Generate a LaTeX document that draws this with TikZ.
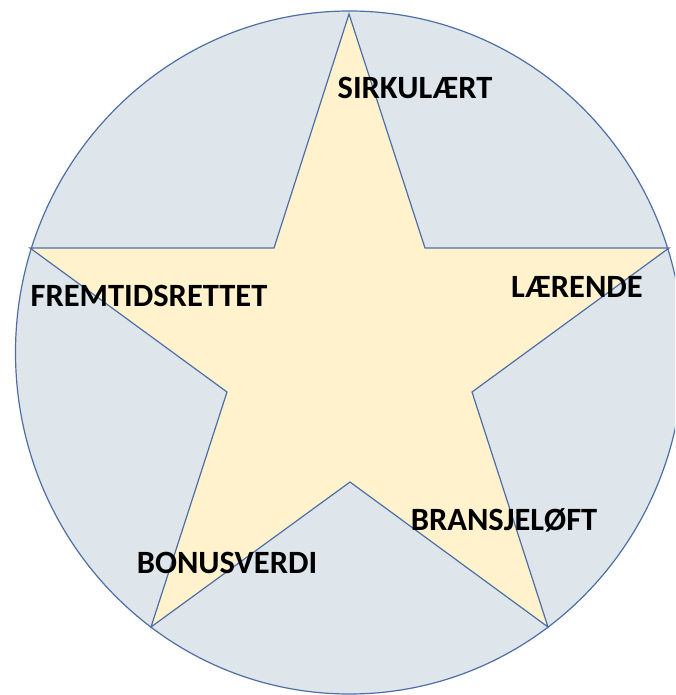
\documentclass[tikz,border=0pt]{standalone}
\usepackage{fontspec}
\setmainfont{Carlito}
\definecolor{ringfill}{HTML}{DEE5EB}
\definecolor{starfill}{HTML}{FFF2CC}
\definecolor{edge}{HTML}{4E6FA6}
\begin{document}
\begin{tikzpicture}[x=1pt,y=-1pt,
  lbl/.style={font=\bfseries\fontsize{32.5}{36}\selectfont, text=black, inner sep=0pt, anchor=center},
  outline/.style={draw=edge, line width=1.2pt, line join=miter}]
\useasboundingbox (0,0) rectangle (675,695);
\clip (0,0) rectangle (675,695);
\fill[white] (0,0) rectangle (675,695);
\draw[outline, fill=ringfill] (349.5,352.5) ellipse [x radius=334, y radius=341.5];
\coordinate (o1) at (349,14);
\coordinate (i1) at (425,248);
\coordinate (o2) at (669,248);
\coordinate (i2) at (472,392);
\coordinate (o3) at (548,627);
\coordinate (i3) at (350,482);
\coordinate (o4) at (151,627);
\coordinate (i4) at (227,392);
\coordinate (o5) at (30,248);
\coordinate (i5) at (274,248);
\draw[outline, fill=starfill] (o1) -- (i1) -- (o2) -- (i2) -- (o3) -- (i3) -- (o4) -- (i4) -- (o5) -- (i5) -- cycle;
\node[lbl] (t1) at (415,88) {SIRKULÆRT};
\node[lbl] (t2) at (577,287) {LÆRENDE};
\node[lbl] (t3) at (149,296) {FREMTIDSRETTET};
\node[lbl] (t4) at (504,520) {BRANSJELØFT};
\node[lbl] (t5) at (227,563) {BONUSVERDI};
\end{tikzpicture}
\end{document}
